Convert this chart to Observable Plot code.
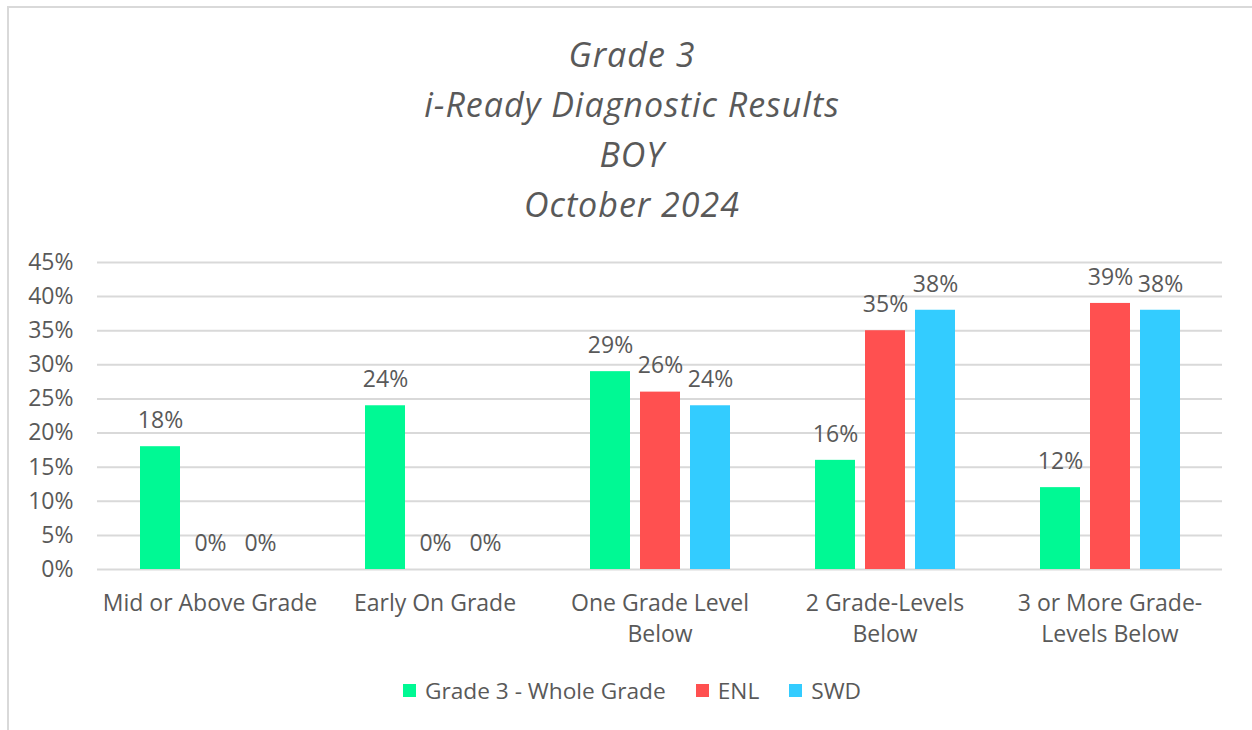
<!DOCTYPE html>
<html>
<head>
<meta charset="utf-8">
<script src="https://cdn.jsdelivr.net/npm/d3@7"></script>
<script src="https://cdn.jsdelivr.net/npm/@observablehq/plot@0.6"></script>
<style>
  html, body { margin: 0; padding: 0; background: #fff; width: 1252px; height: 730px; overflow: hidden; }
  #frame { position: absolute; left: 7px; top: 6px; width: 1300px; height: 800px; border-left: 2px solid #d9d9d9; border-top: 2px solid #d9d9d9; }
  #title { position: absolute; left: 8px; width: 1248px; top: 29px; text-align: center; font-family: "Open Sans", sans-serif; font-style: italic; font-size: 34px; letter-spacing: 1px; line-height: 50px; color: #595959; }
  #chart { position: absolute; left: 0; top: 240px; }
  #legend { position: absolute; left: 8px; width: 1248px; top: 674px; font-family: "Open Sans", sans-serif; font-size: 22.7px; color: #595959; }
  #legend > div { display: flex; justify-content: center; align-items: center; }
  #legend span { margin-right: 30px !important; }
  #legend span:last-child { margin-right: 0 !important; }
  #legend svg { margin-right: 9px !important; }
</style>
</head>
<body>
<div id="frame"></div>
<div id="title">Grade 3<br>i-Ready Diagnostic Results<br>BOY<br>October 2024</div>
<div id="chart"></div>
<div id="legend"></div>
<script>
const categories = ["Mid or Above Grade", "Early On Grade", "One Grade Level\nBelow", "2 Grade-Levels\nBelow", "3 or More Grade-\nLevels Below"];
const series = ["Grade 3 - Whole Grade", "ENL", "SWD"];
const wholeGrade = [18, 24, 29, 16, 12];
const enl = [0, 0, 26, 35, 39];
const swd = [0, 0, 24, 38, 38];
const yTicks = [0, 0.05, 0.10, 0.15, 0.20, 0.25, 0.30, 0.35, 0.40, 0.45];
const colors = ["#00F994", "#FF5050", "#33CCFF"];

const seriesValues = [wholeGrade, enl, swd];
const data = [];
categories.forEach((c, i) => {
  series.forEach((s, j) => {
    data.push({category: c, series: s, value: seriesValues[j][i] / 100, pct: seriesValues[j][i]});
  });
});

const pctFmt = d => Math.round(d * 100) + "%";

const chart = Plot.plot({
  width: 1252,
  height: 412,
  marginLeft: 96,
  marginRight: 30,
  marginTop: 22,
  marginBottom: 83,
  style: {fontFamily: "'Open Sans', sans-serif", fontSize: "23px", color: "#595959", background: "transparent", overflow: "visible"},
  fx: {domain: categories, padding: 0, label: null},
  x: {domain: series, paddingInner: 0.2, paddingOuter: 0.85, axis: null},
  y: {domain: [0, 0.45], label: null},
  color: {domain: series, range: colors},
  marks: [
    Plot.gridY(yTicks, {stroke: "#d9d9d9", strokeOpacity: 1, strokeWidth: 2}),
    Plot.axisY(yTicks, {tickSize: 0, tickPadding: 24, tickFormat: pctFmt, label: null, fill: "#595959"}),
    Plot.axisFx({anchor: "bottom", tickSize: 0, tickPadding: 19, lineHeight: 1.35, label: null, fill: "#595959"}),
    Plot.barY(data, {fx: "category", x: "series", y: "value", fill: "series"}),
    Plot.text(data, {fx: "category", x: "series", y: "value", text: d => d.pct + "%", dy: -26, fill: "#595959"})
  ]
});
document.getElementById("chart").appendChild(chart);

const legend = Plot.legend({
  color: {domain: series, range: colors},
  legend: "swatches",
  swatchSize: 13,
  style: {fontFamily: "'Open Sans', sans-serif", fontSize: "22.7px", color: "#595959"}
});
document.getElementById("legend").appendChild(legend);
</script>
</body>
</html>
